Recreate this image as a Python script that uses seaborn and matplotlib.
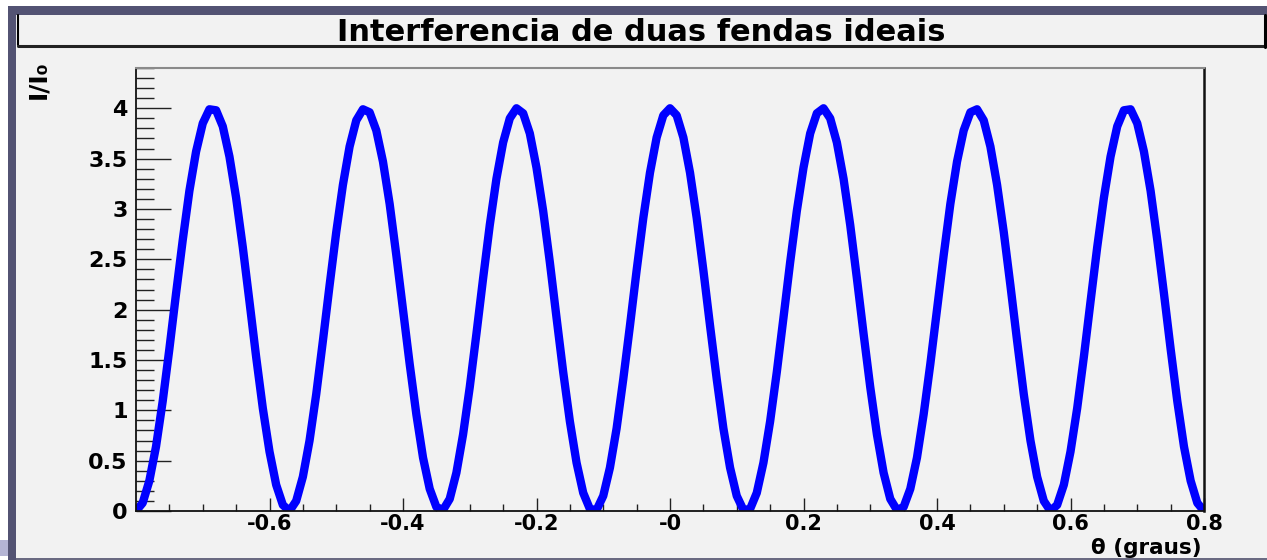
import matplotlib
matplotlib.use("Agg")
import matplotlib.pyplot as plt
from matplotlib.patches import Rectangle
from matplotlib.lines import Line2D
from matplotlib.ticker import MultipleLocator, FixedLocator, FixedFormatter
import pandas as pd
import seaborn as sns

# ---------------- data ----------------
title = "Interferencia de duas fendas ideais"
x_label = "θ (graus)"
y_label = "I/I₀"

theta = [
    -0.80, -0.79, -0.78, -0.77, -0.76, -0.75, -0.74, -0.73, -0.72, -0.71,
    -0.70, -0.69, -0.68, -0.67, -0.66, -0.65, -0.64, -0.63, -0.62, -0.61,
    -0.60, -0.59, -0.58, -0.57, -0.56, -0.55, -0.54, -0.53, -0.52, -0.51,
    -0.50, -0.49, -0.48, -0.47, -0.46, -0.45, -0.44, -0.43, -0.42, -0.41,
    -0.40, -0.39, -0.38, -0.37, -0.36, -0.35, -0.34, -0.33, -0.32, -0.31,
    -0.30, -0.29, -0.28, -0.27, -0.26, -0.25, -0.24, -0.23, -0.22, -0.21,
    -0.20, -0.19, -0.18, -0.17, -0.16, -0.15, -0.14, -0.13, -0.12, -0.11,
    -0.10, -0.09, -0.08, -0.07, -0.06, -0.05, -0.04, -0.03, -0.02, -0.01,
    0.00,
    0.01, 0.02, 0.03, 0.04, 0.05, 0.06, 0.07, 0.08, 0.09, 0.10,
    0.11, 0.12, 0.13, 0.14, 0.15, 0.16, 0.17, 0.18, 0.19, 0.20,
    0.21, 0.22, 0.23, 0.24, 0.25, 0.26, 0.27, 0.28, 0.29, 0.30,
    0.31, 0.32, 0.33, 0.34, 0.35, 0.36, 0.37, 0.38, 0.39, 0.40,
    0.41, 0.42, 0.43, 0.44, 0.45, 0.46, 0.47, 0.48, 0.49, 0.50,
    0.51, 0.52, 0.53, 0.54, 0.55, 0.56, 0.57, 0.58, 0.59, 0.60,
    0.61, 0.62, 0.63, 0.64, 0.65, 0.66, 0.67, 0.68, 0.69, 0.70,
    0.71, 0.72, 0.73, 0.74, 0.75, 0.76, 0.77, 0.78, 0.79, 0.80,
]

intensity = [
    0.00, 0.08, 0.30, 0.64, 1.09, 1.61, 2.16, 2.69, 3.18, 3.57,
    3.85, 3.99, 3.98, 3.82, 3.52, 3.11, 2.62, 2.08, 1.53, 1.02,
    0.59, 0.26, 0.06, 0.00, 0.10, 0.34, 0.70, 1.16, 1.69, 2.24,
    2.77, 3.24, 3.62, 3.88, 3.99, 3.96, 3.78, 3.47, 3.05, 2.54,
    2.00, 1.46, 0.96, 0.53, 0.22, 0.04, 0.01, 0.12, 0.38, 0.76,
    1.23, 1.76, 2.31, 2.84, 3.30, 3.66, 3.90, 4.00, 3.95, 3.75,
    3.41, 2.98, 2.47, 1.92, 1.38, 0.89, 0.48, 0.18, 0.02, 0.01,
    0.15, 0.43, 0.82, 1.31, 1.84, 2.39, 2.91, 3.36, 3.71, 3.93,
    4.00,
    3.93, 3.71, 3.36, 2.91, 2.39, 1.84, 1.31, 0.82, 0.43, 0.15,
    0.01, 0.02, 0.18, 0.48, 0.89, 1.38, 1.92, 2.47, 2.98, 3.41,
    3.75, 3.95, 4.00, 3.90, 3.66, 3.30, 2.84, 2.31, 1.76, 1.23,
    0.76, 0.38, 0.12, 0.01, 0.04, 0.22, 0.53, 0.96, 1.46, 2.00,
    2.54, 3.05, 3.47, 3.78, 3.96, 3.99, 3.88, 3.62, 3.24, 2.77,
    2.24, 1.69, 1.16, 0.70, 0.34, 0.10, 0.00, 0.06, 0.26, 0.59,
    1.02, 1.53, 2.08, 2.62, 3.11, 3.52, 3.82, 3.98, 3.99, 3.85,
    3.57, 3.18, 2.69, 2.16, 1.61, 1.09, 0.64, 0.30, 0.08, 0.00,
]

x_tick_values = [-0.6, -0.4, -0.2, 0.0, 0.2, 0.4, 0.6, 0.8]
x_tick_labels = ["-0.6", "-0.4", "-0.2", "-0", "0.2", "0.4", "0.6", "0.8"]
y_tick_values = [0, 0.5, 1, 1.5, 2, 2.5, 3, 3.5, 4]
y_tick_labels = ["0", "0.5", "1", "1.5", "2", "2.5", "3", "3.5", "4"]

x_range = [-0.8, 0.8]
y_range = [0, 4.4]

# ---------------- figure ----------------
sns.set_style("ticks")
plt.rcParams["font.family"] = ["DejaVu Sans"]
plt.rcParams["text.color"] = "black"
plt.rcParams["xtick.labelcolor"] = "black"
plt.rcParams["ytick.labelcolor"] = "black"

W, H = 1267, 560
fig = plt.figure(figsize=(W / 100, H / 100), dpi=100, facecolor="white")


def fx(px):
    return px / W


def fy(py):
    return 1 - py / H


frame_col = "#535373"
panel_col = "#f2f2f2"

# background frame & panel
fig.patches.append(Rectangle((fx(8), fy(15)), fx(W - 8), 9 / H, transform=fig.transFigure,
                             facecolor=frame_col, edgecolor="none", zorder=-10))
fig.patches.append(Rectangle((fx(8), 0), fx(8), fy(6), transform=fig.transFigure,
                             facecolor=frame_col, edgecolor="none", zorder=-10))
fig.patches.append(Rectangle((fx(16), fy(558)), fx(W - 16), (558 - 15) / H, transform=fig.transFigure,
                             facecolor=panel_col, edgecolor="none", zorder=-10))
fig.patches.append(Rectangle((fx(16), 0), fx(W - 16), 2 / H, transform=fig.transFigure,
                             facecolor="#6a6a82", edgecolor="none", zorder=-9))
fig.patches.append(Rectangle((0, fy(556)), fx(8), 16 / H, transform=fig.transFigure,
                             facecolor="#b4b4d4", edgecolor="none", zorder=-9))

# title box borders
fig.lines.append(Line2D([fx(18), fx(18)], [fy(15), fy(45)], transform=fig.transFigure,
                        color="black", linewidth=1.5))
fig.lines.append(Line2D([fx(18), fx(1266)], [fy(45.5), fy(45.5)], transform=fig.transFigure,
                        color="#222222", linewidth=2.2))
fig.lines.append(Line2D([fx(1265), fx(1265)], [fy(15), fy(46.5)], transform=fig.transFigure,
                        color="black", linewidth=2.2))

fig.text(fx(641), fy(41), title, ha="center", va="baseline",
         fontsize=22, fontweight="bold", color="black")

# axes
ax = fig.add_axes([fx(136), fy(511), (1204 - 136) / W, (511 - 68) / H])
ax.set_facecolor(panel_col)

df = pd.DataFrame({"theta": theta, "intensity": intensity})
sns.lineplot(data=df, x="theta", y="intensity", ax=ax, color="#0000ff",
             linewidth=6, estimator=None, sort=False, legend=False)

ax.set_xlim(*x_range)
ax.set_ylim(*y_range)
ax.set_xlabel("")
ax.set_ylabel("")

ax.xaxis.set_major_locator(FixedLocator(x_tick_values))
ax.xaxis.set_major_formatter(FixedFormatter(x_tick_labels))
ax.xaxis.set_minor_locator(MultipleLocator(0.05))
ax.yaxis.set_major_locator(FixedLocator(y_tick_values))
ax.yaxis.set_major_formatter(FixedFormatter(y_tick_labels))
ax.yaxis.set_minor_locator(MultipleLocator(0.1))

ax.tick_params(axis="y", which="major", direction="in", length=25, width=1.0,
               color="#222222", pad=6, labelsize=16, labelcolor="black")
ax.tick_params(axis="y", which="minor", direction="in", length=13, width=1.0, color="#222222")
ax.tick_params(axis="x", which="major", direction="in", length=9.5, width=1.0,
               color="#222222", pad=2.5, labelsize=15, labelcolor="black")
ax.tick_params(axis="x", which="minor", direction="in", length=5, width=1.0, color="#222222")
for lab in ax.get_xticklabels() + ax.get_yticklabels():
    lab.set_fontweight("bold")

for side in ["left", "bottom"]:
    ax.spines[side].set_color("#111111")
    ax.spines[side].set_linewidth(1.3)
ax.spines["top"].set_color("#8a8a8a")
ax.spines["top"].set_linewidth(1.5)
ax.spines["right"].set_color("#111111")
ax.spines["right"].set_linewidth(1.8)
ax.spines["top"].set_visible(True)
ax.spines["right"].set_visible(True)

fig.text(fx(1202), fy(553.5), x_label, ha="right", va="baseline",
         fontsize=15.5, fontweight="bold", color="black")
fig.text(fx(38), fy(60), y_label, ha="center", va="top", rotation=90,
         fontsize=18, fontweight="bold", color="black")

fig.savefig("out.png", dpi=100, facecolor="white")
